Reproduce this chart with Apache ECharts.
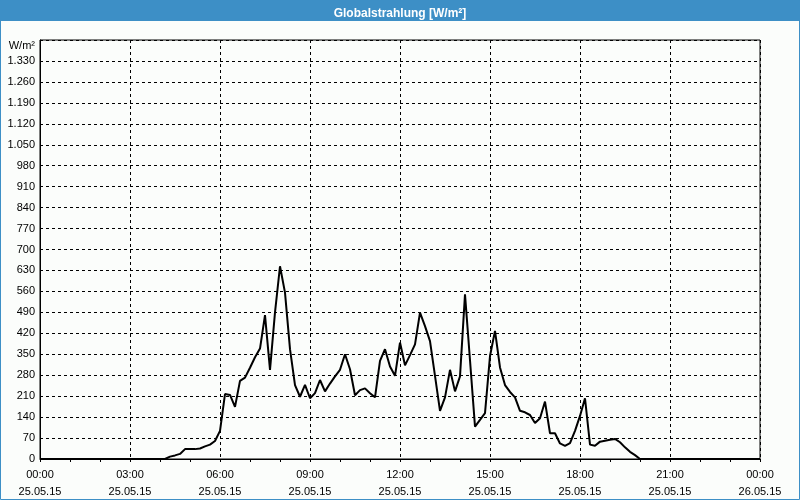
<!DOCTYPE html>
<html>
<head>
<meta charset="utf-8">
<script src="https://cdn.jsdelivr.net/npm/echarts@6/dist/echarts.min.js"></script>
<style>
html,body{margin:0;padding:0;background:#fbfdfb;}
#main{width:800px;height:500px;}
</style>
</head>
<body>
<div id="main"></div>
<script>
// 10-minute samples, 25.05.15 00:00 .. 26.05.15 00:00 (W/m²)
const globalRadiation = [
  0,0,0,0,0,0, 0,0,0,0,0,0, 0,0,0,0,0,0, 0,0,0,0,0,0,      // 00:00-03:50
  0,0,8,12,17,33,                                        // 04:00-04:50
  33,33,35,42,48,60,                                     // 05:00-05:50
  94,217,214,174,261,272,                                // 06:00-06:50
  305,340,369,481,298,490,                               // 07:00-07:50
  644,556,367,247,208,248,                               // 08:00-08:50
  203,220,264,226,252,276,                               // 09:00-09:50
  298,350,300,213,230,236,                               // 10:00-10:50
  220,206,328,367,309,278,                               // 11:00-11:50
  389,313,347,383,489,444,                               // 12:00-12:50
  394,278,161,206,298,226,                               // 13:00-13:50
  276,550,330,108,131,153,                               // 14:00-14:50
  344,428,306,247,224,206,                               // 15:00-15:50
  161,156,147,120,136,192,                               // 16:00-16:50
  86,86,52,44,53,94,                                     // 17:00-17:50
  144,203,48,44,58,61,                                   // 18:00-18:50
  64,67,56,39,24,13,                                     // 19:00-19:50
  0,0,0,0,0,0, 0,0,0,0,0,0, 0,0,0,0,0,0, 0,0,0,0,0,0,    // 20:00-23:50
  0                                                      // 24:00
];
const sampleStepMinutes = 10;
const xTickTimes = ['00:00','03:00','06:00','09:00','12:00','15:00','18:00','21:00','00:00'];
const xTickDates = ['25.05.15','25.05.15','25.05.15','25.05.15','25.05.15','25.05.15','25.05.15','25.05.15','26.05.15'];
const yUnit = 'W/m²';
const titleText = 'Globalstrahlung [W/m²]';

const seriesData = globalRadiation.map((v, i) => [i * sampleStepMinutes, v]);

function fmtY(v) {
  if (v === 1400) return '{u|' + yUnit + '}';
  if (v >= 1000) return Math.floor(v / 1000) + '.' + String(v % 1000).padStart(3, '0');
  return String(v);
}

const chart = echarts.init(document.getElementById('main'), null, {renderer: 'canvas'});
const font = 'Liberation Sans';
chart.setOption({
  backgroundColor: '#fbfdfb',
  animation: false,
  title: {
    text: titleText,
    left: 'center',
    top: 3,
    textStyle: {color: '#ffffff', fontFamily: font, fontSize: 12, fontWeight: 'bold'}
  },
  graphic: [
    {type: 'rect', z: -1, shape: {x: 0, y: 0, width: 800, height: 21}, style: {fill: '#3d8fc6'}},
    {type: 'rect', z: -1, shape: {x: 0.5, y: 0.5, width: 799, height: 499}, style: {fill: null, stroke: '#3d8fc6', lineWidth: 1}}
  ],
  grid: {left: 40, right: 40, top: 40, bottom: 40, show: true, borderColor: '#000', borderWidth: 1, backgroundColor: 'transparent'},
  xAxis: {
    type: 'value',
    min: 0, max: 1440, interval: 180,
    axisLine: {show: true, lineStyle: {color: '#000', width: 1}},
    axisTick: {show: true, length: 3, lineStyle: {color: '#000'}},
    minorTick: {show: true, splitNumber: 3, length: 3, lineStyle: {color: '#000'}},
    splitLine: {show: true, lineStyle: {color: '#000', type: [3, 3], width: 1}},
    axisLabel: {
      margin: 7,
      color: '#000', fontFamily: font, fontSize: 11, lineHeight: 17,
      formatter: function (v) {
        const i = Math.round(v / 180);
        return xTickTimes[i] + '\n' + xTickDates[i];
      }
    }
  },
  yAxis: {
    type: 'value',
    min: 0, max: 1400, interval: 70,
    axisLine: {show: true, lineStyle: {color: '#000', width: 1}},
    axisTick: {show: false},
    splitLine: {show: true, lineStyle: {color: '#000', type: [3, 3], width: 1}},
    axisLabel: {
      margin: 5, color: '#000', fontFamily: font, fontSize: 11, formatter: fmtY,
      rich: {u: {color: '#000', fontFamily: font, fontSize: 11, padding: [12, 0, 0, 0]}}
    }
  },
  series: [{
    type: 'line',
    data: seriesData,
    symbol: 'none',
    lineStyle: {color: '#000', width: 2},
    clip: true
  }]
});
</script>
</body>
</html>
